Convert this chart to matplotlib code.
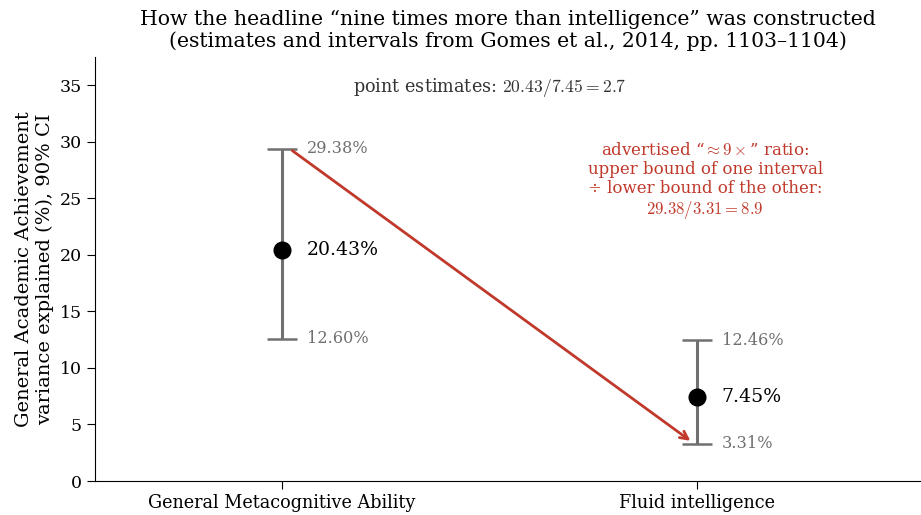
import matplotlib
matplotlib.use("Agg")
import matplotlib.pyplot as plt

plt.rcParams['font.family'] = ['DejaVu Serif']
plt.rcParams['mathtext.fontset'] = 'cm'

groups = ['General Metacognitive Ability', 'Fluid intelligence']
estimates = [20.43, 7.45]
lower = [12.60, 3.31]
upper = [29.38, 12.46]

fig = plt.figure(figsize=(9.21, 5.15), dpi=100)
ax = fig.add_axes([0.103, 0.066, 0.897, 0.823])

xs = [0, 1]
for x, est, lo, hi in zip(xs, estimates, lower, upper):
    ax.errorbar(x, est, yerr=[[est - lo], [hi - est]], fmt='none',
                ecolor='#707070', elinewidth=2.2, capsize=11, capthick=1.8, zorder=2)
    ax.plot(x, est, 'o', color='black', markersize=12, zorder=4)
    ax.text(x + 0.06, est, f'{est:.2f}%', fontsize=13.6, va='center', ha='left')
    ax.text(x + 0.06, hi, f'{hi:.2f}%', fontsize=11.6, va='center', ha='left', color='#707070')
    ax.text(x + 0.06, lo, f'{lo:.2f}%', fontsize=11.6, va='center', ha='left', color='#707070')

# upper bound of one interval to lower bound of the other
ax.annotate('', xy=(xs[1] - 0.01, lower[1] + 0.1), xytext=(xs[0] + 0.02, upper[0]),
            arrowprops=dict(arrowstyle='->', color='#c0392b', lw=2, mutation_scale=14),
            zorder=3)

ax.text(0.5, 34.8, r'point estimates: $20.43/7.45 = 2.7$', fontsize=12.7,
        ha='center', va='center', color='#333333')
ax.text(1.02, 26.5,
        'advertised \u201c$\\approx 9\\times$\u201d ratio:\n'
        'upper bound of one interval\n'
        '\u00f7 lower bound of the other:\n'
        r'$29.38/3.31 = 8.9$',
        fontsize=12, ha='center', va='center', color='#c0392b', linespacing=1.15)

ax.set_xlim(-0.45, 1.54)
ax.set_ylim(0, 37.5)
ax.set_xticks(xs)
ax.set_xticklabels(groups, fontsize=12.7)
ax.set_yticks(range(0, 36, 5))
ax.tick_params(axis='both', length=6)
ax.tick_params(axis='y', labelsize=12.5)
ax.set_ylabel('General Academic Achievement\nvariance explained (%), 90% CI', fontsize=14)
ax.set_title('How the headline \u201cnine times more than intelligence\u201d was constructed\n'
             '(estimates and intervals from Gomes et al., 2014, pp. 1103\u20131104)',
             fontsize=14.7, pad=7)
ax.spines['top'].set_visible(False)
ax.spines['right'].set_visible(False)

fig.savefig('out.png', dpi=100)
